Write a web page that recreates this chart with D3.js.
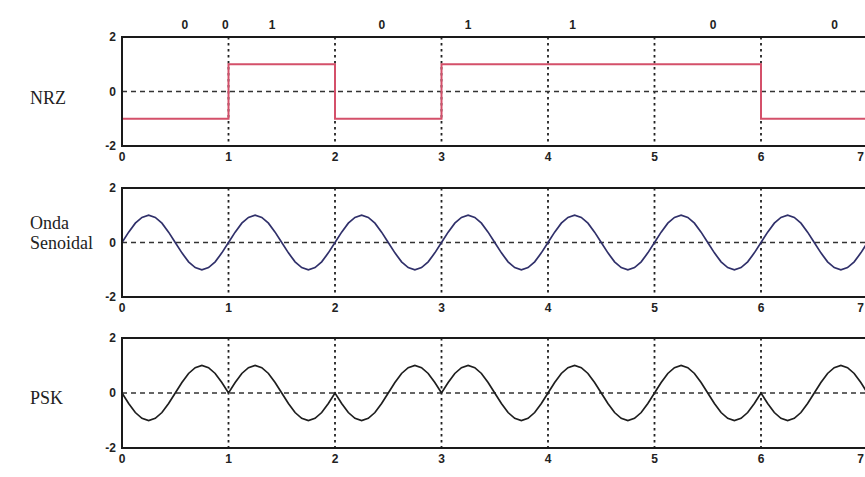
<!DOCTYPE html>
<html>
<head>
<meta charset="utf-8">
<script src="https://cdn.jsdelivr.net/npm/d3@7"></script>
<style>
  body { margin: 0; background: #fff; }
  svg { display: block; }
  .tick-lbl { font-family: "Liberation Sans", Arial, sans-serif; font-size: 12px; font-weight: bold; fill: #222; }
  .side-lbl { font-family: "Liberation Serif", "Times New Roman", serif; font-size: 18px; fill: #222; }
</style>
</head>
<body>
<svg id="chart" width="865" height="477"></svg>
<script>
// bit sequence shown over the top panel
const bitLabels = ["0", "0", "1", "0", "1", "1", "0", "0"];
const bitLabelX = [0.59, 0.97, 1.41, 2.44, 3.25, 4.23, 5.55, 6.69];

// NRZ level for each bit period 0-1, 1-2, ... 6-7
const nrzLevels = [-1, 1, -1, 1, 1, 1, -1];

// samples every 1/16 of a unit
const sineValues = [
  0, 0.38, 0.71, 0.92, 1, 0.92, 0.71, 0.38, 0, -0.38, -0.71, -0.92, -1, -0.92, -0.71, -0.38,
  0, 0.38, 0.71, 0.92, 1, 0.92, 0.71, 0.38, 0, -0.38, -0.71, -0.92, -1, -0.92, -0.71, -0.38,
  0, 0.38, 0.71, 0.92, 1, 0.92, 0.71, 0.38, 0, -0.38, -0.71, -0.92, -1, -0.92, -0.71, -0.38,
  0, 0.38, 0.71, 0.92, 1, 0.92, 0.71, 0.38, 0, -0.38, -0.71, -0.92, -1, -0.92, -0.71, -0.38,
  0, 0.38, 0.71, 0.92, 1, 0.92, 0.71, 0.38, 0, -0.38, -0.71, -0.92, -1, -0.92, -0.71, -0.38,
  0, 0.38, 0.71, 0.92, 1, 0.92, 0.71, 0.38, 0, -0.38, -0.71, -0.92, -1, -0.92, -0.71, -0.38,
  0, 0.38, 0.71, 0.92, 1, 0.92, 0.71, 0.38, 0, -0.38, -0.71, -0.92, -1, -0.92, -0.71, -0.38,
  0
];
const pskValues = [
  0, -0.38, -0.71, -0.92, -1, -0.92, -0.71, -0.38, 0, 0.38, 0.71, 0.92, 1, 0.92, 0.71, 0.38,
  0, 0.38, 0.71, 0.92, 1, 0.92, 0.71, 0.38, 0, -0.38, -0.71, -0.92, -1, -0.92, -0.71, -0.38,
  0, -0.38, -0.71, -0.92, -1, -0.92, -0.71, -0.38, 0, 0.38, 0.71, 0.92, 1, 0.92, 0.71, 0.38,
  0, 0.38, 0.71, 0.92, 1, 0.92, 0.71, 0.38, 0, -0.38, -0.71, -0.92, -1, -0.92, -0.71, -0.38,
  0, 0.38, 0.71, 0.92, 1, 0.92, 0.71, 0.38, 0, -0.38, -0.71, -0.92, -1, -0.92, -0.71, -0.38,
  0, 0.38, 0.71, 0.92, 1, 0.92, 0.71, 0.38, 0, -0.38, -0.71, -0.92, -1, -0.92, -0.71, -0.38,
  0, -0.38, -0.71, -0.92, -1, -0.92, -0.71, -0.38, 0, 0.38, 0.71, 0.92, 1, 0.92, 0.71, 0.38,
  0
];
const sampleStep = 1 / 16;

const xTicks = [0, 1, 2, 3, 4, 5, 6, 7];
const yTicks = [2, 0, -2];

const svg = d3.select("#chart");
const W = 865;

const x = d3.scaleLinear().domain([0, 7]).range([122, 867.5]);

const panels = [
  {top: 37, bottom: 146, label: ["NRZ"], labelY: 98, color: "#d4506a"},
  {top: 188, bottom: 297, label: ["Onda", "Senoidal"], labelY: 233, color: "#30306a"},
  {top: 338, bottom: 448, label: ["PSK"], labelY: 398, color: "#1e1e1e"}
];

const nrzPts = nrzLevels.map((v, i) => [i, v]).concat([[nrzLevels.length, nrzLevels[nrzLevels.length - 1]]]);
const sinePts = sineValues.map((v, i) => [i * sampleStep, v]);
const pskPts = pskValues.map((v, i) => [i * sampleStep, v]);
const series = [nrzPts, sinePts, pskPts];

panels.forEach(function(p, k) {
    let y = d3.scaleLinear().domain([-2, 2]).range([p.bottom, p.top]);
    let g = svg.append("g");

    // grid: vertical dotted lines at integer x, dashed line at y = 0
    g.selectAll(".vgrid")
        .data(xTicks.slice(1, -1))
        .enter()
        .append("line")
            .attr("x1", d => x(d)).attr("x2", d => x(d))
            .attr("y1", p.top).attr("y2", p.bottom)
            .attr("stroke", "#222")
            .attr("stroke-width", 1.8)
            .attr("stroke-dasharray", "2.5,3.5");

    g.append("line")
        .attr("x1", x(0)).attr("x2", x(7))
        .attr("y1", y(0)).attr("y2", y(0))
        .attr("stroke", "#333")
        .attr("stroke-width", 1.6)
        .attr("stroke-dasharray", "5,4");

    let line = d3.line()
        .x(d => x(d[0]))
        .y(d => y(d[1]))
        .curve(k === 0 ? d3.curveStepAfter : d3.curveLinear);

    g.append("path")
        .datum(series[k])
        .attr("fill", "none")
        .attr("stroke", p.color)
        .attr("stroke-width", k === 0 ? 2 : 1.7)
        .attr("d", line);

    // frame
    g.append("rect")
        .attr("x", x(0)).attr("y", p.top)
        .attr("width", x(7) - x(0)).attr("height", p.bottom - p.top)
        .attr("fill", "none")
        .attr("stroke", "#1a1a1a")
        .attr("stroke-width", 2);

    // y tick labels
    g.selectAll(".ylbl")
        .data(yTicks)
        .enter()
        .append("text")
            .attr("class", "tick-lbl")
            .attr("x", x(0) - 6)
            .attr("y", d => y(d) + 4)
            .attr("text-anchor", "end")
            .text(d => d);

    // x tick labels (last one sits on the window edge)
    g.selectAll(".xlbl")
        .data(xTicks)
        .enter()
        .append("text")
            .attr("class", "tick-lbl")
            .attr("x", d => Math.min(x(d), W - 1))
            .attr("y", p.bottom + 15)
            .attr("text-anchor", d => x(d) > W - 4 ? "end" : "middle")
            .text(d => d);

    // side label
    let t = svg.append("text")
        .attr("class", "side-lbl")
        .attr("x", 30)
        .attr("y", p.labelY - (p.label.length - 1) * 10 + 6);
    p.label.forEach(function(s, i) {
        t.append("tspan")
            .attr("x", 30)
            .attr("dy", i === 0 ? 0 : 20)
            .text(s);
    });
});

// bit labels over the top panel
svg.selectAll(".bit")
    .data(bitLabels)
    .enter()
    .append("text")
        .attr("class", "tick-lbl")
        .attr("x", (d, i) => x(bitLabelX[i]))
        .attr("y", 29)
        .attr("text-anchor", "middle")
        .text(d => d);
</script>
</body>
</html>
